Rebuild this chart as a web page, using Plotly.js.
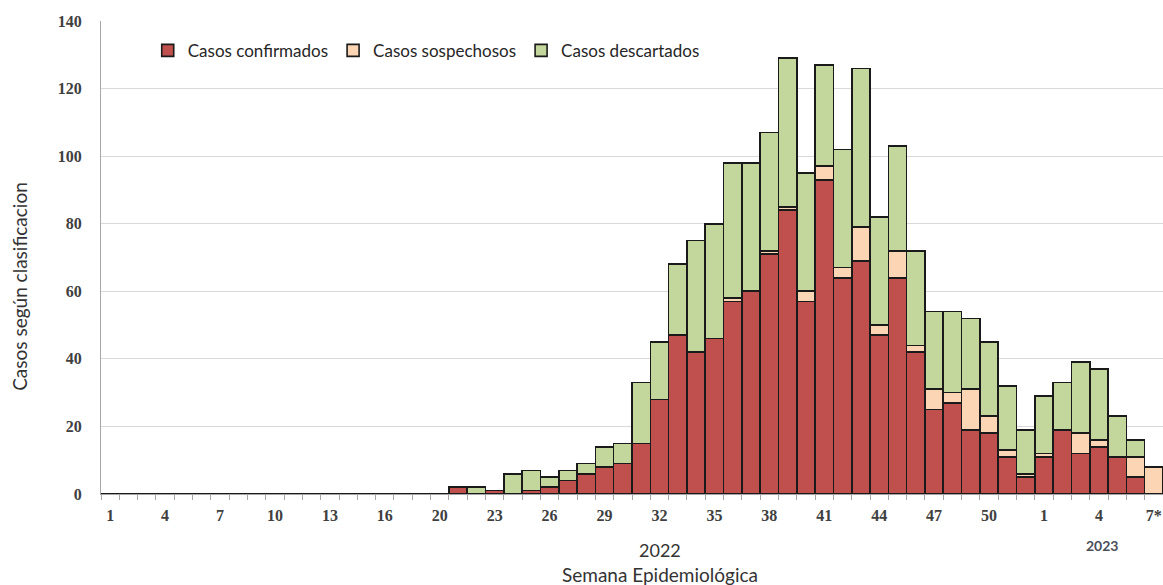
<!DOCTYPE html>
<html>
<head>
<meta charset="utf-8">
<script src="https://cdn.plot.ly/plotly-3.0.1.min.js"></script>
<style>html,body{margin:0;padding:0;background:#fff;}#chart{width:1163px;height:585px;}</style>
</head>
<body>
<div id="chart"></div>
<script>
// Epidemiological weeks: 2022 weeks 1-18, 20-52 (week 19 absent), 2023 weeks 1-7*
const semanas = [
  "2022-1","2022-2","2022-3","2022-4","2022-5","2022-6","2022-7","2022-8","2022-9","2022-10",
  "2022-11","2022-12","2022-13","2022-14","2022-15","2022-16","2022-17","2022-18","2022-20","2022-21",
  "2022-22","2022-23","2022-24","2022-25","2022-26","2022-27","2022-28","2022-29","2022-30","2022-31",
  "2022-32","2022-33","2022-34","2022-35","2022-36","2022-37","2022-38","2022-39","2022-40","2022-41",
  "2022-42","2022-43","2022-44","2022-45","2022-46","2022-47","2022-48","2022-49","2022-50","2022-51",
  "2022-52","2023-1","2023-2","2023-3","2023-4","2023-5","2023-6","2023-7*"
];
const etiquetas = [
  "1","","","4","","","7","","","10",
  "","","13","","","16","","","20","",
  "","23","","","26","","","29","","",
  "32","","","35","","","38","","","41",
  "","","44","","","47","","","50","",
  "","1","","","4","","","7*"
];
const confirmados = [
  0,0,0,0,0,0,0,0,0,0,
  0,0,0,0,0,0,0,0,0,2,
  0,1,0,1,2,4,6,8,9,15,
  28,47,42,46,57,60,71,84,57,93,
  64,69,47,64,42,25,27,19,18,11,
  5,11,19,12,14,11,5,0
];
const sospechosos = [
  0,0,0,0,0,0,0,0,0,0,
  0,0,0,0,0,0,0,0,0,0,
  0,0,0,0,0,0,0,0,0,0,
  0,0,0,0,1,0,1,1,3,4,
  3,10,3,8,2,6,3,12,5,2,
  1,1,0,6,2,0,6,8
];
const descartados = [
  0,0,0,0,0,0,0,0,0,0,
  0,0,0,0,0,0,0,0,0,0,
  2,0,6,6,3,3,3,6,6,18,
  17,21,33,34,40,38,35,44,35,30,
  35,47,32,31,28,23,24,21,22,19,
  13,17,14,21,21,12,5,0
];
const nombres = ["Casos confirmados","Casos sospechosos","Casos descartados"];
const colores = ["#C0504D","#FCD5B5","#C3D69B"];
const series = [confirmados, sospechosos, descartados];

const lineStyle = {color: "#1a1a1a", width: 1.6};
const traces = series.map((vals, i) => ({
  type: "bar",
  name: nombres[i],
  x: semanas,
  y: vals,
  marker: {color: colores[i], line: lineStyle},
  hoverinfo: "x+y+name"
}));

const sansFont = "Lato, 'Open Sans', sans-serif";
const serifFont = "'Liberation Serif', 'DejaVu Serif', serif";

const layout = {
  width: 1163, height: 585,
  margin: {l: 101, r: 0, t: 21, b: 91, pad: 0},
  barmode: "stack",
  bargap: 0,
  paper_bgcolor: "#ffffff",
  plot_bgcolor: "#ffffff",
  showlegend: true,
  legend: {
    orientation: "h",
    x: 0.044, y: 0.975, xanchor: "left", yanchor: "top",
    font: {family: sansFont, size: 17, color: "#262626"},
    itemwidth: 30,
    traceorder: "normal",
    bgcolor: "rgba(0,0,0,0)"
  },
  xaxis: {
    type: "category",
    tickmode: "array",
    tickvals: semanas,
    ticktext: etiquetas,
    tickson: "boundaries",
    tickangle: 0,
    ticks: "outside",
    ticklen: 5,
    tickcolor: "#a6a6a6",
    ticklabelstandoff: 7,
    tickfont: {family: serifFont, size: 16, color: "#404040", weight: "bold"},
    showline: true,
    linecolor: "#a6a6a6",
    linewidth: 1,
    showgrid: false,
    zeroline: false,
    fixedrange: true
  },
  yaxis: {
    range: [0, 140],
    dtick: 20,
    tick0: 0,
    showgrid: true,
    gridcolor: "#d9d9d9",
    gridwidth: 1,
    showline: true,
    linecolor: "#a6a6a6",
    linewidth: 1,
    zeroline: false,
    ticks: "",
    ticklabelstandoff: 15,
    tickfont: {family: serifFont, size: 16, color: "#404040", weight: "bold"},
    fixedrange: true
  },
  annotations: [
    {text: "Casos según clasificacion", xref: "paper", yref: "paper", x: 0, y: 0.438, xshift: -81,
     textangle: -90, xanchor: "center", yanchor: "middle", showarrow: false,
     font: {family: sansFont, size: 19, color: "#333333"}},
    {text: "2022", xref: "paper", yref: "paper", x: 0.526, y: -0.118, xanchor: "center", yanchor: "middle",
     showarrow: false, font: {family: sansFont, size: 18, color: "#333333"}},
    {text: "Semana Epidemiológica", xref: "paper", yref: "paper", x: 0.526, y: -0.171, xanchor: "center", yanchor: "middle",
     showarrow: false, font: {family: sansFont, size: 19, color: "#333333"}},
    {text: "<b>2023</b>", xref: "paper", yref: "paper", x: 0.943, y: -0.108, xanchor: "center", yanchor: "middle",
     showarrow: false, font: {family: sansFont, size: 14, color: "#4a4f5a"}}
  ]
};

Plotly.newPlot("chart", traces, layout, {displayModeBar: false, staticPlot: true});
</script>
</body>
</html>
